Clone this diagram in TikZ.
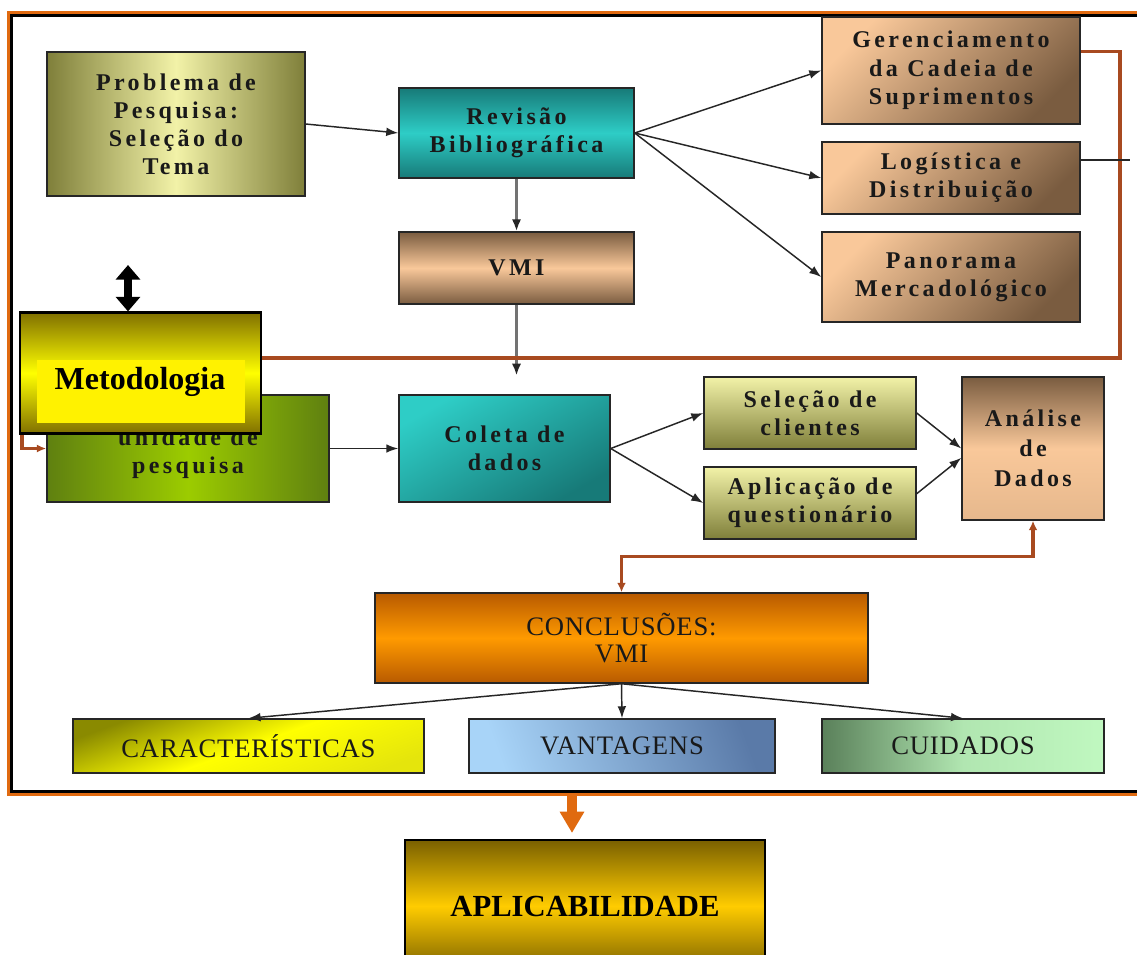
\documentclass[tikz,border=0pt]{standalone}
\usepackage{fontspec}
\setmainfont{Liberation Serif}
\newfontfamily\boxfont[LetterSpace=14]{Liberation Serif}
\newfontfamily\capsfont[LetterSpace=3]{Liberation Serif}
\usetikzlibrary{arrows.meta}

\definecolor{framorange}{HTML}{E06A10}
\definecolor{loopbrown}{HTML}{A84A20}
\definecolor{olivedk}{HTML}{7F7F3A}
\definecolor{olivelt}{HTML}{F2F2A8}
\definecolor{tealdk}{HTML}{177A78}
\definecolor{teallt}{HTML}{2ECDC6}
\definecolor{tanlt}{HTML}{F9C89A}
\definecolor{tandk}{HTML}{7A5C40}
\definecolor{greendk}{HTML}{5F8010}
\definecolor{greenlt}{HTML}{9CCC00}
\definecolor{orangedk}{HTML}{B85A00}
\definecolor{orangelt}{HTML}{FF9A00}
\definecolor{yellowdk}{HTML}{8A8A00}
\definecolor{bluelt}{HTML}{A8D4F8}
\definecolor{bluedk}{HTML}{5A7AA8}
\definecolor{mintdk}{HTML}{5A805A}
\definecolor{mintlt}{HTML}{C0F8C0}
\definecolor{golddk}{HTML}{7A6000}
\definecolor{goldlt}{HTML}{FFCC00}
\definecolor{metdk}{HTML}{807000}

\begin{document}
\begin{tikzpicture}[x=0.75pt,y=-0.75pt,
  sz/.style 2 args={minimum width=#1*0.75pt, minimum height=#2*0.75pt},
  box/.style={draw=black!85, line width=1.1pt, inner sep=1pt, align=center,
    text=black!90, font=\boxfont\bfseries\fontsize{18}{21}\selectfont},
  capbox/.style={box, font=\capsfont\fontsize{20}{20.5}\selectfont},
  olivebox/.style={box, left color=olivedk, right color=olivedk, middle color=olivelt},
  tealbox/.style={box, top color=tealdk, bottom color=tealdk, middle color=teallt},
  tanbox/.style={box, top color=tanlt, bottom color=tandk, shading angle=45},
  conn/.style={draw=black!85, line width=1.1pt, -{Latex[length=9pt,width=6.5pt]}},
  gconn/.style={draw=black!55, line width=2.2pt, -{Latex[length=9pt,width=7pt,color=black!85]}},
  loopline/.style={draw=loopbrown, line width=2.3pt},
]
\useasboundingbox (0,0) rectangle (1137,954);
\fill[white] (0,0) rectangle (1137,954);

% outer frame, open on the right
\draw[framorange, line width=2pt] (1140,12.5) -- (8.5,12.5) -- (8.5,794.5) -- (1140,794.5);
\draw[black, line width=2pt] (1140,15.5) -- (11.5,15.5) -- (11.5,791.5) -- (1140,791.5);

% boxes
\node[olivebox, sz={258}{144}] (prob) at (176,124) {Problema de\\Pesquisa:\\Seleção do\\Tema};
\node[tealbox, sz={235}{90}] (rev) at (516.5,133) {Revisão\\Bibliográfica};
\node[box, sz={235}{72}, top color=tandk, bottom color=tandk, middle color=tanlt] (vmi) at (516.5,268) {VMI};
\node[tanbox, sz={258}{107}, font=\boxfont\bfseries\fontsize{18}{21.5}\selectfont] (ger) at (951,70.5) {Gerenciamento\\da Cadeia de\\Suprimentos};
\node[tanbox, sz={258}{72}] (log) at (951,178) {Logística e\\Distribuição};
\node[tanbox, sz={258}{90}] (pan) at (951,277) {Panorama\\Mercadológico};

\node[box, sz={282}{107}, left color=greendk, right color=greendk, middle color=greenlt] (uni) at (188,448.5) {\mbox{}\\unidade de\\pesquisa};
\node[box, sz={211}{107}, top color=teallt, bottom color=tealdk, shading angle=30] (col) at (504.5,448.5) {Coleta de\\dados};
\node[box, sz={212}{72}, top color=olivelt, bottom color=olivedk] (sel) at (810,413) {Seleção de\\clientes};
\node[box, sz={212}{72}, top color=olivelt, bottom color=olivedk] (apl) at (810,503) {Aplicação de\\questionário};
\node[box, sz={142}{143}, top color=tandk, bottom color=tanlt!85!tandk, middle color=tanlt, font=\boxfont\bfseries\fontsize{18}{22.5}\selectfont] (ana) at (1033,448.5) {Análise\\de\\Dados};

\node[capbox, sz={493}{90}, top color=orangedk, bottom color=orangedk, middle color=orangelt] (conc) at (621.5,638) {CONCLUSÕES:\\VMI};
\node[capbox, sz={351}{54}, top color=yellowdk, bottom color=yellow!80!olivedk, middle color=yellow, shading angle=20] (car) at (248.5,746) {CARACTERÍSTICAS};
\node[capbox, sz={306}{54}, left color=bluelt, right color=bluedk, shading angle=110] (van) at (622,746) {VANTAGENS};
\node[capbox, sz={282}{54}, left color=mintdk, right color=mintlt, middle color=mintlt!85!mintdk] (cui) at (963,746) {CUIDADOS};

\node[box, draw=black, line width=1.6pt, sz={360}{132}, top color=golddk, bottom color=golddk, middle color=goldlt,
  font=\bfseries\fontsize{23}{25}\selectfont, text=black] (apb) at (585,906) {APLICABILIDADE};

% connectors
\draw[conn] (prob.east) -- (rev.west);
\draw[conn] (rev.east) -- (ger.west);
\draw[conn] (rev.east) -- (log.west);
\draw[conn] (rev.east) -- (pan.west);
\draw[gconn] (rev.south) -- (vmi.north);
\draw[gconn, shorten >=14pt] (vmi.south) -- (vmi.south |- col.north);
\draw[conn] (uni.east) -- (col.west);
\draw[conn] (col.east) -- (sel.west);
\draw[conn] (col.east) -- (apl.west);
\draw[conn] (sel.east) -- (ana.west);
\draw[conn] ([yshift=7pt]apl.east) -- ([yshift=-7pt]ana.west);
\draw[conn] (conc.south) -- (car.north);
\draw[conn] (conc.south) -- (van.north);
\draw[conn] (conc.south) -- (cui.north);

% feedback loop from the supply chain box back to the research unit
\coordinate (loopr) at (1120,358);
\coordinate (loopl) at (22,358);
\draw[loopline, -{Latex[length=7pt,width=6pt]}] ([yshift=14pt]ger.east) -| (loopr) -- (loopl) |- (uni.west);

% thin lead from the logistics box
\coordinate (logend) at (1130,160);
\draw[black!85, line width=0.9pt] ([yshift=13.5pt]log.east) -- (logend);

% two-way link between analysis and conclusions
\draw[loopline, {Latex[length=7pt,width=6.5pt]}-{Latex[length=7pt,width=6.5pt]}] (ana.south) -- ++(0,36) -| (conc.north);

% methodology label
\node[draw=black, line width=1.6pt, sz={241}{121}, top color=metdk, bottom color=metdk, middle color=yellow] (met) at (140.5,373) {};
\fill[yellow] (37,360) rectangle (245,423);
\node[font=\bfseries\fontsize{24}{26}\selectfont, text=black] (mettext) at (140,382) {Metodologia};
\coordinate (metup) at (128,265);
\draw[black, line width=6pt, {Triangle[length=11pt,width=18pt]}-{Triangle[length=11pt,width=18pt]}] (metup) -- (metup |- met.north);

% arrow down to applicability
\coordinate (frbot) at (572,795);
\draw[framorange, line width=6.8pt, -{Triangle[length=16pt,width=17.5pt]}, shorten >=4.5pt] (frbot) -- (frbot |- apb.north);
\end{tikzpicture}
\end{document}
